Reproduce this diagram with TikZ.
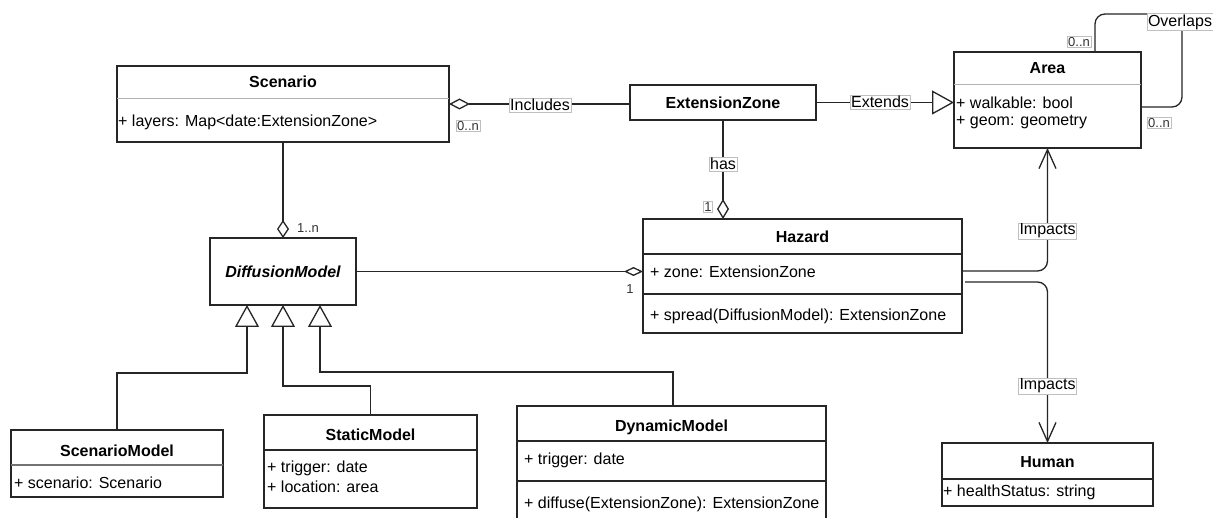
\documentclass[tikz,border=0pt]{standalone}
\usepackage{fontspec}
\setmainfont{Liberation Sans}
\usetikzlibrary{arrows.meta}
\begin{document}
\begin{tikzpicture}[x=1pt,y=-1pt,
  box/.style={draw=black!85, line width=1.3pt, fill=white, anchor=north west, inner sep=0pt, outer sep=0pt},
  ghost/.style={anchor=north west, inner sep=0pt, outer sep=0pt},
  ttl/.style={font=\fontsize{16}{19}\selectfont\bfseries, inner sep=0pt},
  attr/.style={font=\fontsize{16}{19}\selectfont, anchor=west, inner sep=0pt},
  lbl/.style={font=\fontsize{16}{19}\selectfont, draw=black!25, line width=0.5pt, fill=white, inner sep=1pt},
  mult/.style={font=\fontsize{13}{15}\selectfont, inner sep=1pt, text=black!80},
  multb/.style={mult, draw=black!25, line width=0.5pt, fill=white},
  conn/.style={draw=black!85, line width=1.3pt},
  divd/.style={draw=black!85, line width=1.3pt},
  divl/.style={draw=black!30, line width=1pt},
  aggr/.style={{Diamond[open, length=#1]}-},
  gen/.style={-{Triangle[open, length=22pt, width=24pt]}},
  dep/.style={-{Straight Barb[length=19pt, width=17pt]}}
]
\fill[white] (0,0) rectangle (1213,518);
\useasboundingbox (0,0) rectangle (1213,518);

% ---------- classes ----------
\node[box, minimum width=332pt, minimum height=76pt] (sc) at (117,66) {};
\node[ttl] (sct) at (283,82) {Scenario};
\draw[divl] (sc.west |- 0,99) -- (sc.east |- 0,99);
\node[attr] (sca) at (118,122) {+ layers: Map<date:ExtensionZone>};

\node[box, minimum width=186pt, minimum height=35pt] (ez) at (630,85) {};
\node[ttl] (ezt) at (ez.center) {ExtensionZone};

\node[box, minimum width=187pt, minimum height=96pt] (ar) at (954,52) {};
\node[ttl] (art) at (1047.5,68) {Area};
\draw[divl] (ar.west |- 0,85) -- (ar.east |- 0,85);
\node[attr] (ara) at (956,103) {+ walkable: bool};
\node[attr] (arb) at (956,122) {+ geom: geometry};

\node[box, minimum width=146pt, minimum height=67pt] (dm) at (210,238) {};
\node[ttl, font=\fontsize{16}{19}\selectfont\bfseries\itshape] (dmt) at (dm.center) {DiffusionModel};

\node[box, minimum width=319pt, minimum height=114pt] (hz) at (643,219) {};
\node[ttl] (hzt) at (802.5,237) {Hazard};
\draw[divd] (hz.west |- 0,254) -- (hz.east |- 0,254);
\draw[divd] (hz.west |- 0,294) -- (hz.east |- 0,294);
\node[attr] (hza) at (650,272) {+ zone: ExtensionZone};
\node[attr] (hzb) at (650,316) {+ spread(DiffusionModel): ExtensionZone};

\node[box, minimum width=212pt, minimum height=67pt] (sm) at (11,430) {};
\node[ttl] (smt) at (117,451) {ScenarioModel};
\draw[divl, draw=black!55, line width=1.3pt] (sm.west |- 0,465) -- (sm.east |- 0,465);
\node[attr] (sma) at (14,483) {+ scenario: Scenario};

\node[box, minimum width=213pt, minimum height=93pt] (st) at (264,415) {};
\node[ttl] (stt) at (370.5,435) {StaticModel};
\draw[divd] (st.west |- 0,450) -- (st.east |- 0,450);
\node[attr] (sta) at (267,468) {+ trigger: date};
\node[attr] (stb) at (267,487) {+ location: area};

\node[ghost, minimum width=309pt, minimum height=112pt] (dy) at (517,406) {};
\fill[white] (dy.south west) rectangle (dy.north east);
\draw[divd] (dy.south west) -- (dy.north west) -- (dy.north east) -- (dy.south east);
\node[ttl] (dyt) at (671.5,427) {DynamicModel};
\draw[divd] (dy.west |- 0,441) -- (dy.east |- 0,441);
\draw[divd] (dy.west |- 0,481) -- (dy.east |- 0,481);
\node[attr] (dya) at (524,460) {+ trigger: date};
\node[attr] (dyb) at (524,504) {+ diffuse(ExtensionZone): ExtensionZone};

\node[box, minimum width=211pt, minimum height=63pt] (hu) at (942,443) {};
\node[ttl] (hut) at (1047.5,462) {Human};
\draw[divd] (hu.west |- 0,479) -- (hu.east |- 0,479);
\node[attr] (hua) at (943,492) {+ healthStatus: string};

% ---------- connectors ----------
\draw[conn, {Diamond[open, length=21pt, width=11pt]}-] (sc.east) -- (sc.east -| ez.west);
\draw[conn, gen] (ez.east) -- (ez.east -| ar.west);
\draw[conn, -{Diamond[open, length=20pt, width=12pt]}] (ez.south) -- (ez.south |- hz.north);
\draw[conn, -{Diamond[open, length=18pt, width=12pt]}] (sc.south) -- (dm.north);
\draw[conn, -{Diamond[open, length=19pt, width=9pt]}] (dm.east) -- (dm.east -| hz.west);
\draw[conn, dep, rounded corners=10pt] (hz.east |- 0,271) -- (1047.5,271) -- (ar.south);
\draw[conn, dep, rounded corners=10pt] (965,282) -- (1047.5,282) -- (hu.north);
\draw[conn, rounded corners=10pt] (ar.north -| 1095,0) -- (1095,14) -- (1182,14) -- (1182,107) -- (ar.east |- 0,107);

\draw[conn, gen] (sm.north) -- (sm.north |- 0,373) -- (247,373) -- (dm.south -| 247,0);
\draw[conn, gen] (st.north) -- (st.north |- 0,386) -- (283,386) -- (dm.south -| 283,0);
\draw[conn, gen] (dy.north -| 673,0) -- (673,372) -- (320,372) -- (dm.south -| 320,0);

% ---------- labels ----------
\node[lbl] (l1) at (540,105) {Includes};
\node[multb] (m1) at (468,126) {0..n};
\node[lbl] (l2) at (880,102) {Extends};
\node[lbl] (l3) at (723,164) {has};
\node[multb] (m2) at (708,207) {1};
\node[mult] (m3) at (308,228) {1..n};
\node[mult] (m4) at (630,289) {1};
\node[lbl] (l4) at (1047.5,231) {Impacts};
\node[lbl] (l5) at (1047.5,386) {Impacts};
\node[lbl] (l6) at (1180,22) {Overlaps};
\node[multb] (m5) at (1079,42) {0..n};
\node[multb] (m6) at (1159,123) {0..n};
\end{tikzpicture}
\end{document}
